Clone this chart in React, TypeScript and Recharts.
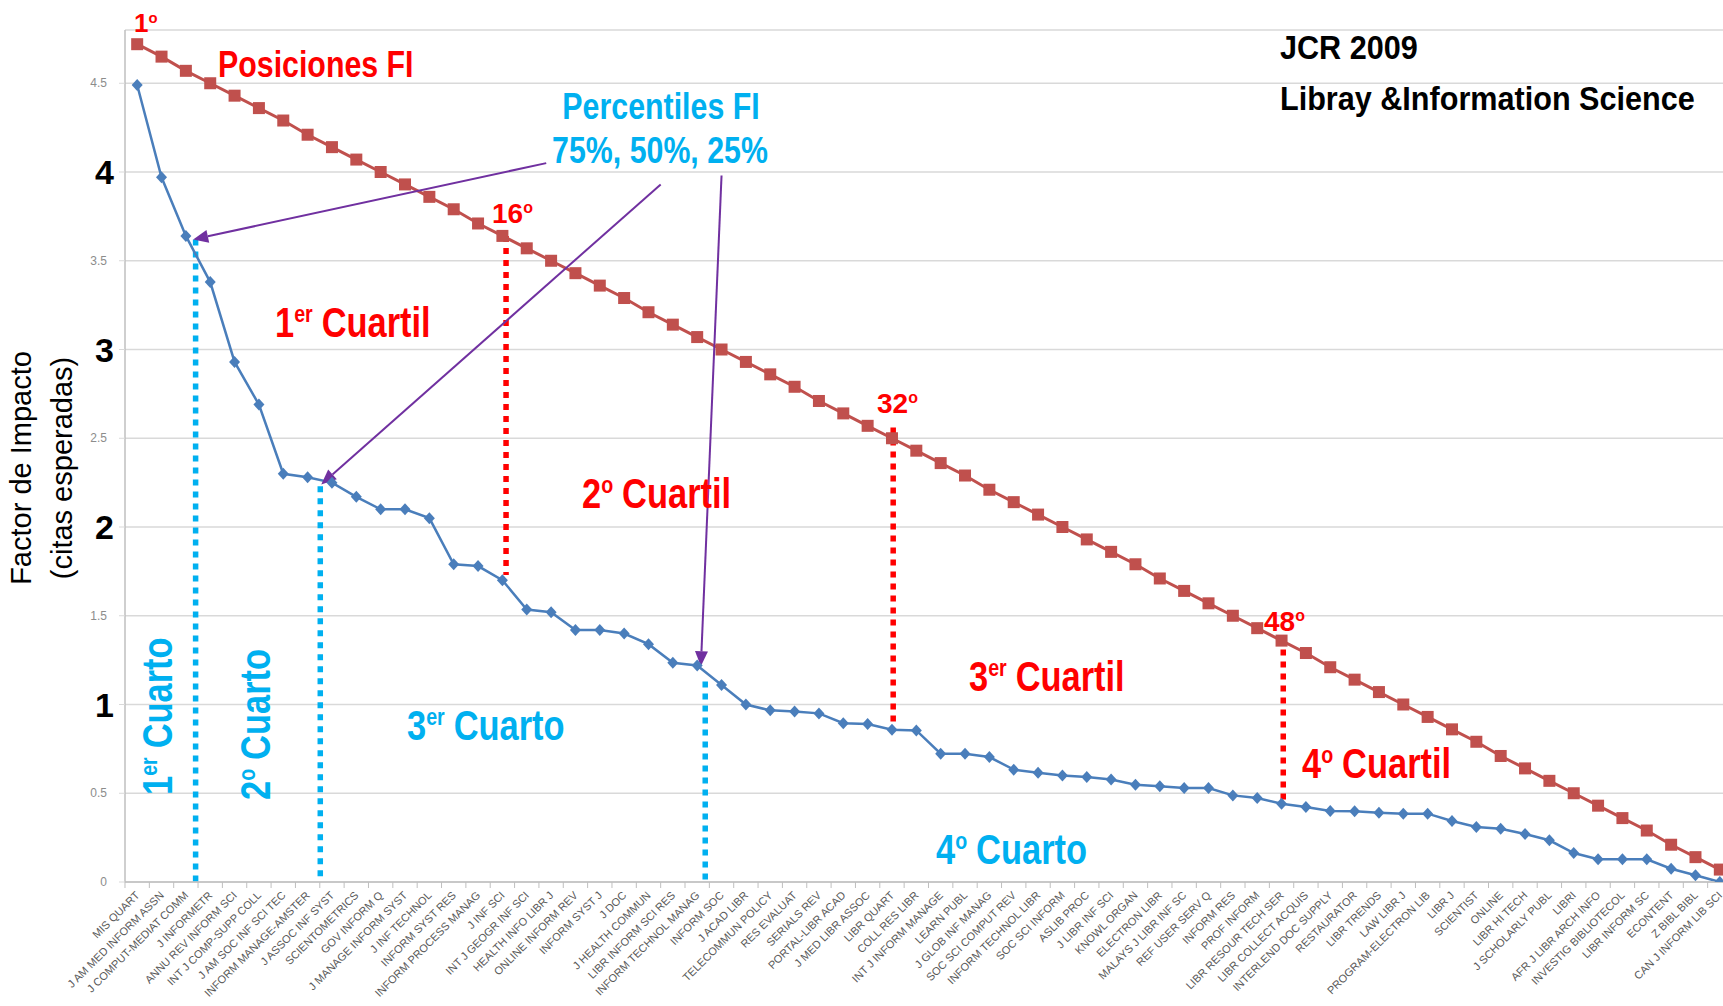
import React from "react";
import {
  LineChart,
  Line,
  XAxis,
  YAxis,
  CartesianGrid,
  ReferenceLine,
} from "recharts";

// ─── Data ─────────────────────────────────────────────────────────────────────

const journals = [
  "MIS QUART", "J AM MED INFORM ASSN", "J COMPUT-MEDIAT COMM", "J INFORMETR",
  "ANNU REV INFORM SCI", "INT J COMP-SUPP COLL", "J AM SOC INF SCI TEC",
  "INFORM MANAGE-AMSTER", "J ASSOC INF SYST", "SCIENTOMETRICS", "GOV INFORM Q",
  "J MANAGE INFORM SYST", "J INF TECHNOL", "INFORM SYST RES",
  "INFORM PROCESS MANAG", "J INF SCI", "INT J GEOGR INF SCI",
  "HEALTH INFO LIBR J", "ONLINE INFORM REV", "INFORM SYST J", "J DOC",
  "J HEALTH COMMUN", "LIBR INFORM SCI RES", "INFORM TECHNOL MANAG",
  "INFORM SOC", "J ACAD LIBR", "TELECOMMUN POLICY", "RES EVALUAT",
  "SERIALS REV", "PORTAL-LIBR ACAD", "J MED LIBR ASSOC", "LIBR QUART",
  "COLL RES LIBR", "INT J INFORM MANAGE", "LEARN PUBL", "J GLOB INF MANAG",
  "SOC SCI COMPUT REV", "INFORM TECHNOL LIBR", "SOC SCI INFORM", "ASLIB PROC",
  "J LIBR INF SCI", "KNOWL ORGAN", "ELECTRON LIBR", "MALAYS J LIBR INF SC",
  "REF USER SERV Q", "INFORM RES", "PROF INFORM", "LIBR RESOUR TECH SER",
  "LIBR COLLECT ACQUIS", "INTERLEND DOC SUPPLY", "RESTAURATOR", "LIBR TRENDS",
  "LAW LIBR J", "PROGRAM-ELECTRON LIB", "LIBR J", "SCIENTIST", "ONLINE",
  "LIBR HI TECH", "J SCHOLARLY PUBL", "LIBRI", "AFR J LIBR ARCH INFO",
  "INVESTIG BIBLIOTECOL", "LIBR INFORM SC", "ECONTENT", "Z BIBL BIBL",
  "CAN J INFORM LIB SCI",
];

// blue: impact factor of each journal
const impactFactor = [
  4.49, 3.97, 3.64, 3.38, 2.93, 2.69, 2.3, 2.28, 2.25, 2.17,
  2.1, 2.1, 2.05, 1.79, 1.78, 1.7, 1.535, 1.52, 1.42, 1.42,
  1.4, 1.34, 1.235, 1.22, 1.11, 1.0, 0.967, 0.961, 0.95, 0.895,
  0.89, 0.858, 0.854, 0.723, 0.723, 0.704, 0.633, 0.616, 0.6, 0.591,
  0.578, 0.548, 0.539, 0.529, 0.529, 0.488, 0.473, 0.441, 0.422, 0.4,
  0.398, 0.39, 0.385, 0.385, 0.344, 0.31, 0.3, 0.27, 0.235, 0.163,
  0.128, 0.128, 0.128, 0.075, 0.038, 0.0,
];

// red: position line ("Posiciones FI")
const posiciones = [
  4.72, 4.65, 4.57, 4.5, 4.43, 4.36, 4.29, 4.21, 4.14, 4.07,
  4.0, 3.93, 3.86, 3.79, 3.71, 3.64, 3.57, 3.5, 3.43, 3.36,
  3.29, 3.21, 3.14, 3.07, 3.0, 2.93, 2.86, 2.79, 2.71, 2.64,
  2.57, 2.5, 2.43, 2.36, 2.29, 2.21, 2.14, 2.07, 2.0, 1.93,
  1.86, 1.79, 1.71, 1.64, 1.57, 1.5, 1.43, 1.36, 1.29, 1.21,
  1.14, 1.07, 1.0, 0.93, 0.86, 0.79, 0.71, 0.64, 0.57, 0.5,
  0.43, 0.36, 0.29, 0.21, 0.14, 0.07,
];

const yTicks = [0, 0.5, 1, 1.5, 2, 2.5, 3, 3.5, 4, 4.5];

// percentile cut lines (blue dotted): [x, top value]
const percentileCuts = [
  [2.4, 3.62],
  [7.52, 2.23],
  [23.33, 1.13],
];

// quartile cut lines (red dotted): [x, top value, bottom value]
const quartileCuts = [
  [15.15, 3.64, 1.73],
  [31.05, 2.56, 0.88],
  [47.07, 1.31, 0.44],
];

// arrows from "Percentiles FI" label: [x1, y1, x2, y2]
const arrows = [
  [16.8, 4.05, 2.3, 3.62],
  [21.5, 3.93, 7.56, 2.24],
  [24.0, 3.98, 23.15, 1.215],
];

const data = journals.map((name, i) => ({
  idx: i,
  name,
  fi: impactFactor[i],
  pos: posiciones[i],
}));

// ─── Styling ──────────────────────────────────────────────────────────────────

const FONT = "'Liberation Sans', Arial, Helvetica, sans-serif";
const RED = "#FF0000";
const CYAN = "#00B0F0";
const PURPLE = "#7030A0";
const BLUE_LINE = "#4A7EBB";
const RED_LINE = "#C0504D";
const STEP = 24.35; // category width in px, for boundary tick marks

// ─── Ticks & dots ─────────────────────────────────────────────────────────────

const XTick = (props: any) => {
  const { x, y, payload } = props;
  return (
    <g>
      <line x1={x - STEP / 2} x2={x - STEP / 2} y1={y} y2={y + 6} stroke="#BFBFBF" />
      <text
        transform={`translate(${x + 3},${y + 14}) rotate(-45)`}
        textAnchor="end"
        fontSize={11}
        fontFamily={FONT}
        fill="#595959"
      >
        {journals[payload.value]}
      </text>
    </g>
  );
};

const YTick = (props: any) => {
  const { x, y, payload } = props;
  const v = payload.value;
  if (Number.isInteger(v) && v > 0) {
    return (
      <text x={x - 3} y={y + 12} textAnchor="end" fontSize={34} fontWeight="bold" fontFamily={FONT} fill="#000">
        {v}
      </text>
    );
  }
  return (
    <text x={x - 10} y={y + 4} textAnchor="end" fontSize={12} fontFamily={FONT} fill="#8C8C8C">
      {v}
    </text>
  );
};

const Diamond = (props: any) => {
  const { cx, cy, index } = props;
  return (
    <path
      key={`fi-${index}`}
      d={`M${cx},${cy - 6}L${cx + 5.5},${cy}L${cx},${cy + 6}L${cx - 5.5},${cy}Z`}
      fill={BLUE_LINE}
    />
  );
};

const Square = (props: any) => {
  const { cx, cy, index } = props;
  return <rect key={`pos-${index}`} x={cx - 6} y={cy - 6} width={12} height={12} fill={RED_LINE} />;
};

const Arrow = (props: any) => {
  const { x1, y1, x2, y2 } = props;
  const a = Math.atan2(y2 - y1, x2 - x1);
  const len = 15;
  const w = 6.5;
  const bx = x2 - len * Math.cos(a);
  const by = y2 - len * Math.sin(a);
  const px = -Math.sin(a) * w;
  const py = Math.cos(a) * w;
  return (
    <g>
      <line x1={x1} y1={y1} x2={bx} y2={by} stroke={PURPLE} strokeWidth={2} />
      <polygon points={`${x2},${y2} ${bx + px},${by + py} ${bx - px},${by - py}`} fill={PURPLE} />
    </g>
  );
};

// ─── Annotation text ──────────────────────────────────────────────────────────

function Label({
  x, y, size, color, sx = 0.82, rotate = 0, anchor = "start", weight = "bold", children,
}: any) {
  return (
    <g transform={`translate(${x},${y}) rotate(${rotate}) scale(${sx},1)`}>
      <text textAnchor={anchor} fontSize={size} fontWeight={weight} fill={color} fontFamily={FONT}>
        {children}
      </text>
    </g>
  );
}

// main text with a raised small part, e.g. 1er / 2º
const sup = (main: string, s: string, rest: string, size: number) => [
  <tspan key="a">{main}</tspan>,
  <tspan key="b" fontSize={size * 0.57} dy={-size * 0.36}>{s}</tspan>,
  <tspan key="c" dx={size * 0.26} dy={size * 0.36}>{rest}</tspan>,
];

// ─── Component ────────────────────────────────────────────────────────────────

export default function App() {
  return (
    <div
      style={{
        position: "fixed",
        left: 0,
        top: 0,
        width: 1723,
        height: 1006,
        overflow: "hidden",
        background: "#fff",
      }}
    >
      <LineChart
        width={1740}
        height={1006}
        data={data}
        margin={{ top: 30, right: 8, bottom: 0, left: 0 }}
      >
        <CartesianGrid vertical={false} stroke="#D9D9D9" strokeWidth={1.5} />
        <XAxis
          dataKey="idx"
          type="number"
          domain={[-0.5, 65.5]}
          ticks={data.map((d) => d.idx)}
          interval={0}
          allowDataOverflow
          tick={XTick}
          tickLine={false}
          tickSize={0}
          tickMargin={0}
          height={124}
          axisLine={{ stroke: "#BFBFBF", strokeWidth: 1.5 }}
        />
        <YAxis
          domain={[0, 4.8]}
          ticks={yTicks}
          interval={0}
          allowDataOverflow
          width={125}
          tick={YTick}
          tickLine={{ stroke: "#D9D9D9" }}
          axisLine={{ stroke: "#BFBFBF", strokeWidth: 1.5 }}
        />

        {/* Percentile cuts */}
        {percentileCuts.map(([x, top], i) => (
          <ReferenceLine
            key={`pc-${i}`}
            segment={[{ x, y: top }, { x, y: 0 }]}
            stroke={CYAN}
            strokeWidth={5.5}
            strokeDasharray="6 6"
          />
        ))}

        {/* Quartile cuts */}
        {quartileCuts.map(([x, top, bottom], i) => (
          <ReferenceLine
            key={`qc-${i}`}
            segment={[{ x, y: top }, { x, y: bottom }]}
            stroke={RED}
            strokeWidth={5.5}
            strokeDasharray="6 6"
          />
        ))}

        <Line
          type="linear"
          dataKey="pos"
          stroke={RED_LINE}
          strokeWidth={3}
          dot={Square}
          activeDot={false}
          isAnimationActive={false}
        />
        <Line
          type="linear"
          dataKey="fi"
          stroke={BLUE_LINE}
          strokeWidth={2.5}
          dot={Diamond}
          activeDot={false}
          isAnimationActive={false}
        />

        {arrows.map(([x1, y1, x2, y2], i) => (
          <ReferenceLine
            key={`ar-${i}`}
            segment={[{ x: x1, y: y1 }, { x: x2, y: y2 }]}
            shape={Arrow}
          />
        ))}
      </LineChart>

      <svg
        width={1723}
        height={1006}
        style={{ position: "absolute", left: 0, top: 0, pointerEvents: "none" }}
      >
        {/* axis title */}
        <g transform="translate(31,468) rotate(-90)">
          <text textAnchor="middle" fontSize={29} fontFamily={FONT} fill="#000">Factor de Impacto</text>
        </g>
        <g transform="translate(72,468) rotate(-90)">
          <text textAnchor="middle" fontSize={29} fontFamily={FONT} fill="#000">(citas esperadas)</text>
        </g>

        {/* title */}
        <Label x={1280} y={59} size={34} color="#000" sx={0.9}>JCR 2009</Label>
        <Label x={1280} y={110} size={34} color="#000" sx={0.9}>Libray &amp;Information Science</Label>

        {/* red: positions */}
        <Label x={134} y={32} size={26} color={RED} sx={1}>{sup("1", "o", "", 26)}</Label>
        <Label x={218} y={77} size={37} color={RED}>Posiciones FI</Label>
        <Label x={492} y={223} size={28} color={RED} sx={1}>{sup("16", "o", "", 28)}</Label>
        <Label x={877} y={413} size={28} color={RED} sx={1}>{sup("32", "o", "", 28)}</Label>
        <Label x={1264} y={631} size={28} color={RED} sx={1}>{sup("48", "o", "", 28)}</Label>

        <Label x={275} y={337} size={42} color={RED}>{sup("1", "er", "Cuartil", 42)}</Label>
        <Label x={582} y={508} size={42} color={RED}>{sup("2", "o", "Cuartil", 42)}</Label>
        <Label x={969} y={691} size={42} color={RED}>{sup("3", "er", "Cuartil", 42)}</Label>
        <Label x={1302} y={778} size={42} color={RED}>{sup("4", "o", "Cuartil", 42)}</Label>

        {/* blue: percentiles */}
        <Label x={661} y={119} size={37} color={CYAN} anchor="middle">Percentiles FI</Label>
        <Label x={660} y={163} size={37} color={CYAN} anchor="middle">75%, 50%, 25%</Label>

        <Label x={172} y={795} size={42} color={CYAN} rotate={-90}>{sup("1", "er", "Cuarto", 42)}</Label>
        <Label x={270} y={800} size={42} color={CYAN} rotate={-90}>{sup("2", "o", "Cuarto", 42)}</Label>
        <Label x={407} y={740} size={42} color={CYAN}>{sup("3", "er", "Cuarto", 42)}</Label>
        <Label x={936} y={864} size={42} color={CYAN}>{sup("4", "o", "Cuarto", 42)}</Label>
      </svg>
    </div>
  );
}
